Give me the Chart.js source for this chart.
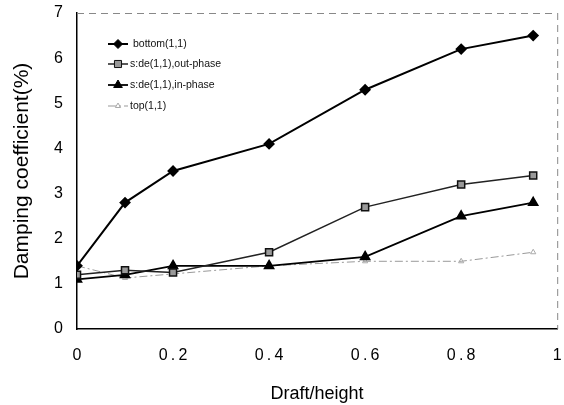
<!DOCTYPE html>
<html>
<head>
<meta charset="utf-8">
<script src="https://cdn.jsdelivr.net/npm/chart.js@4/dist/chart.umd.min.js"></script>
<style>
  html, body { margin: 0; padding: 0; background: #fff; }
  #wrap { width: 564px; height: 405px; }
</style>
</head>
<body>
<div id="wrap"><canvas id="dampingChart" width="564" height="405"></canvas></div>
<script>
// draft/height values
var draft = [0, 0.1, 0.2, 0.4, 0.6, 0.8, 0.95];

// damping coefficient (%)
var bottom11 = [1.4, 2.8, 3.5, 4.1, 5.3, 6.2, 6.5];
var sideOut = [1.2, 1.3, 1.25, 1.7, 2.7, 3.2, 3.4];
var sideIn = [1.1, 1.2, 1.4, 1.4, 1.6, 2.5, 2.8];
var top11 = [1.4, 1.13, 1.22, 1.4, 1.5, 1.5, 1.7];

var seriesNames = ['bottom(1,1)', 's:de(1,1),out-phase', 's:de(1,1),in-phase', 'top(1,1)'];

function pts(ys) {
    return draft.map(function (x, i) { return { x: x, y: ys[i] }; });
}

var FONT = '"Liberation Sans", Arial, sans-serif';

// legend drawn inside the plot, top-left
var insideLegend = {
    id: 'insideLegend',
    afterDraw: function (chart) {
        var ctx = chart.ctx;
        var rows = [44, 64, 85, 106];
        ctx.save();
        chart.data.datasets.forEach(function (ds, i) {
            var y = rows[i];
            ctx.beginPath();
            ctx.setLineDash(ds.borderDash || []);
            ctx.strokeStyle = ds.borderColor;
            ctx.lineWidth = ds.borderWidth;
            ctx.moveTo(108, y);
            ctx.lineTo(128, y);
            ctx.stroke();
            ctx.setLineDash([]);
            ctx.fillStyle = ds.pointBackgroundColor;
            ctx.strokeStyle = ds.pointBorderColor;
            ctx.lineWidth = 1;
            Chart.helpers.drawPoint(ctx, {
                pointStyle: ds.pointStyle,
                radius: ds.pointRadius,
                borderWidth: 1
            }, 118, y);
            ctx.fillStyle = '#111';
            ctx.font = '10.5px ' + FONT;
            ctx.textBaseline = 'middle';
            ctx.textAlign = 'left';
            ctx.fillText(seriesNames[i], i === 0 ? 133 : 130, y);
        });
        ctx.restore();
    }
};

// dashed top and right frame
var frame = {
    id: 'frame',
    beforeDatasetsDraw: function (chart) {
        var a = chart.chartArea, ctx = chart.ctx;
        ctx.save();
        ctx.strokeStyle = '#888';
        ctx.lineWidth = 1;
        ctx.setLineDash([7, 5]);
        ctx.beginPath();
        ctx.moveTo(a.left, a.top + 0.5);
        ctx.lineTo(a.right, a.top + 0.5);
        ctx.moveTo(a.right + 0.5, a.top);
        ctx.lineTo(a.right + 0.5, a.bottom);
        ctx.stroke();
        ctx.restore();
    }
};

var ctx = document.getElementById('dampingChart').getContext('2d');
var dampingChart = new Chart(ctx, {
    type: 'line',
    data: {
        datasets: [{
            label: seriesNames[0],
            data: pts(bottom11),
            borderColor: '#000',
            borderWidth: 2,
            pointStyle: 'rectRot',
            pointRadius: 4.5,
            pointBackgroundColor: '#000',
            pointBorderColor: '#000'
        }, {
            label: seriesNames[1],
            data: pts(sideOut),
            borderColor: '#222',
            borderWidth: 1.5,
            pointStyle: 'rect',
            pointRadius: 5,
            pointBackgroundColor: '#999',
            pointBorderColor: '#111'
        }, {
            label: seriesNames[2],
            data: pts(sideIn),
            borderColor: '#000',
            borderWidth: 1.8,
            pointStyle: 'triangle',
            pointRadius: 5,
            pointBackgroundColor: '#000',
            pointBorderColor: '#000'
        }, {
            label: seriesNames[3],
            data: pts(top11),
            borderColor: '#999',
            borderWidth: 1,
            borderDash: [8, 3, 2, 3],
            pointStyle: 'triangle',
            pointRadius: 3,
            pointBackgroundColor: 'rgba(255,255,255,0)',
            pointBorderColor: '#aaa'
        }]
    },
    options: {
        responsive: false,
        animation: false,
        layout: { padding: { top: 13, right: 6, left: 0, bottom: 0 } },
        plugins: {
            legend: { display: false },
            tooltip: { enabled: false }
        },
        scales: {
            x: {
                type: 'linear',
                min: 0,
                max: 1,
                grid: { display: false, drawTicks: false },
                border: { display: true, color: '#000', width: 1.5 },
                ticks: {
                    stepSize: 0.2,
                    padding: 17,
                    color: '#000',
                    font: { family: FONT, size: 16 },
                    callback: function (v) {
                        if (v === 0) return '0';
                        if (v === 1) return '1';
                        return v.toFixed(1).split('').join('\u2009');
                    }
                },
                title: {
                    display: true,
                    text: 'Draft/height',
                    color: '#000',
                    font: { family: FONT, size: 18 },
                    padding: { top: 0, bottom: 0 }
                },
                afterFit: function (s) {
                    s.height = 76;
                    s.paddingLeft = 0;
                    s.paddingRight = 0;
                }
            },
            y: {
                min: 0,
                max: 7,
                grid: { display: false, drawTicks: false },
                border: { display: true, color: '#000', width: 1.5 },
                ticks: {
                    stepSize: 1,
                    padding: 14,
                    color: '#000',
                    font: { family: FONT, size: 16 }
                },
                title: {
                    display: true,
                    text: 'Damping coefficient(%)',
                    color: '#000',
                    font: { family: FONT, size: 21 },
                    padding: { top: 10, bottom: 0 }
                },
                afterFit: function (s) {
                    s.width = 77;
                    s.paddingTop = 0;
                    s.paddingBottom = 0;
                }
            }
        }
    },
    plugins: [frame, insideLegend]
});
</script>
</body>
</html>
